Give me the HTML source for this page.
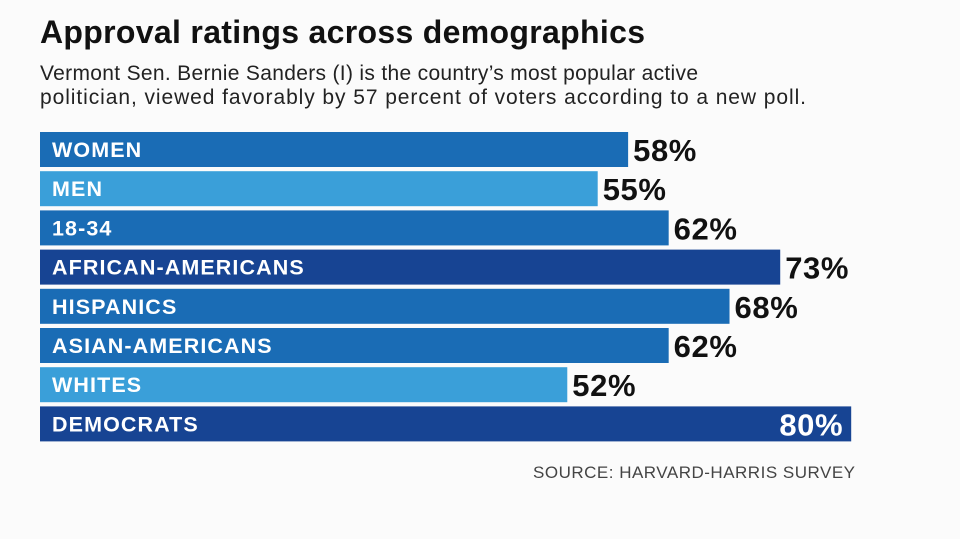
<!DOCTYPE html>
<html><head><meta charset="utf-8"><style>
body{margin:0;background:#fbfbfb;width:960px;height:534px;overflow:hidden;font-family:"Liberation Sans",sans-serif}
</style></head><body>
<svg width="960" height="534">
<text x="40" y="43" font-size="32" font-weight="bold" fill="#111" textLength="605" lengthAdjust="spacing">Approval ratings across demographics</text>
<text x="40" y="80" font-size="21" fill="#222" textLength="658" lengthAdjust="spacing">Vermont Sen. Bernie Sanders (I) is the country’s most popular active</text>
<text x="40" y="104" font-size="21" fill="#222" textLength="766" lengthAdjust="spacing">politician, viewed favorably by 57 percent of voters according to a new poll.</text>
<g id="bars"></g>
<text x="533" y="478" font-size="17" fill="#444" textLength="322" lengthAdjust="spacing">SOURCE: HARVARD-HARRIS SURVEY</text>
</svg>
<script>
const categories=["WOMEN","MEN","18-34","AFRICAN-AMERICANS","HISPANICS","ASIAN-AMERICANS","WHITES","DEMOCRATS"];
const values=[58,55,62,73,68,62,52,80];
const shades=["mid","light","mid","dark","mid","mid","light","dark"];
const colorMap={mid:"#1a6cb5",light:"#3a9fd9",dark:"#174493"};
const x=v=>40+v*10.14;
const y=i=>132+i*39.2;
const g=document.getElementById('bars');
const NS="http://www.w3.org/2000/svg";
categories.forEach((c,i)=>{
  const r=document.createElementNS(NS,'rect');
  r.setAttribute('x',40);r.setAttribute('y',y(i));
  r.setAttribute('width',x(values[i])-40);r.setAttribute('height',35);
  r.setAttribute('fill',colorMap[shades[i]]);
  
  
  g.appendChild(r);
  const t=document.createElementNS(NS,'text');
  t.setAttribute('x',52);t.setAttribute('y',y(i)+25);
  t.setAttribute('font-size','21.5');t.setAttribute('font-weight','bold');t.setAttribute('fill','#fff');
  t.setAttribute('letter-spacing','1.1');
  t.textContent=c;
  
  
  g.appendChild(t);
  const v=document.createElementNS(NS,'text');
  const inside=i===categories.length-1;
  v.setAttribute('x',inside?x(values[i])-8:x(values[i])+5);
  v.setAttribute('y',y(i)+29);
  v.setAttribute('text-anchor',inside?'end':'start');
  v.setAttribute('font-size','31');v.setAttribute('font-weight','bold');
  v.setAttribute('letter-spacing','0.6');
  v.setAttribute('fill',inside?'#fff':'#111');
  v.textContent=values[i]+'%';
  
  
  g.appendChild(v);
});
</script>
</body></html>
